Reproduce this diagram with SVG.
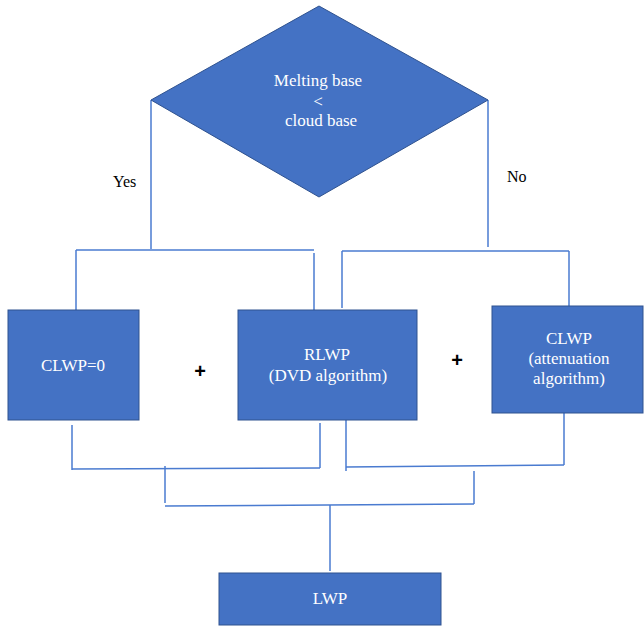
<svg xmlns="http://www.w3.org/2000/svg" width="644" height="627" viewBox="0 0 644 627">
<style>
.node{fill:#4472C4;stroke:#2F528F;stroke-width:1}
.wt{fill:#ffffff;font-family:"Liberation Serif",serif;font-size:17px;text-anchor:middle}
.bt{fill:#000000;font-family:"Liberation Serif",serif;font-size:16px}
.plus{fill:#000000;font-family:"Liberation Sans",sans-serif;font-size:20px;font-weight:bold;text-anchor:middle}
.con{fill:none;stroke:#4a7bd0;stroke-width:1.5}
</style>
<rect width="644" height="627" fill="#ffffff"/>
<g id="connectors">
<path class="con" d="M151,100 V249"/>
<path class="con" d="M488,100 V247"/>
<path class="con" d="M76,250 H314"/>
<path class="con" d="M76,250 V310"/>
<path class="con" d="M314,253 V310"/>
<path class="con" d="M342,251 H569"/>
<path class="con" d="M342,251 V308"/>
<path class="con" d="M569,251 V306"/>
<path class="con" d="M72,425 V470"/>
<path class="con" d="M72,469 L320,468"/>
<path class="con" d="M320,423 V468"/>
<path class="con" d="M346,420 V471"/>
<path class="con" d="M346,467 L564,465"/>
<path class="con" d="M564,412 V465"/>
<path class="con" d="M165,466 V503"/>
<path class="con" d="M165,506 L474,504"/>
<path class="con" d="M474,471 V504"/>
<path class="con" d="M330,505 V571"/>
</g>
<g id="decision">
<polygon class="node" points="319,6 488,100 319,197 151,100"/>
<text class="wt" x="318" y="86">Melting base</text>
<text class="wt" x="318" y="107">&lt;</text>
<text class="wt" x="321" y="126">cloud base</text>
</g>
<g id="label-yes"><text class="bt" x="113" y="187">Yes</text></g>
<g id="label-no"><text class="bt" x="507" y="182">No</text></g>
<g id="clwp0">
<rect class="node" x="8" y="310" width="131" height="110"/>
<text class="wt" x="73" y="371">CLWP=0</text>
</g>
<g id="plus1"><text class="plus" x="200" y="378">+</text></g>
<g id="rlwp">
<rect class="node" x="238" y="310" width="179" height="110"/>
<text class="wt" x="327" y="360">RLWP</text>
<text class="wt" x="328" y="381">(DVD algorithm)</text>
</g>
<g id="plus2"><text class="plus" x="457" y="367">+</text></g>
<g id="clwp-att">
<rect class="node" x="492" y="306" width="151" height="107"/>
<text class="wt" x="569" y="344">CLWP</text>
<text class="wt" x="569" y="364">(attenuation</text>
<text class="wt" x="569" y="384">algorithm)</text>
</g>
<g id="lwp">
<rect class="node" x="219" y="573" width="222" height="52"/>
<text class="wt" x="330" y="604">LWP</text>
</g>
</svg>
